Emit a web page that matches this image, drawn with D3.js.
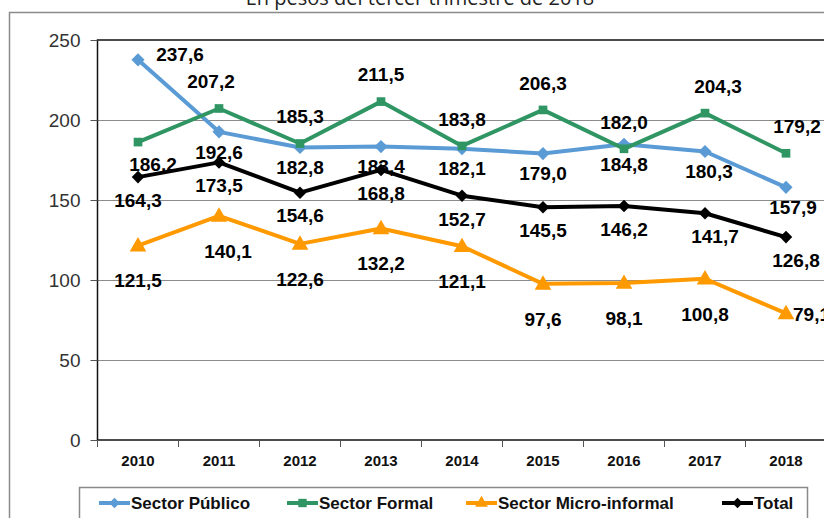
<!DOCTYPE html>
<html>
<head>
<meta charset="utf-8">
<script src="https://cdn.jsdelivr.net/npm/d3@7"></script>
<style>
  body { margin: 0; background: #fff; }
  svg { display: block; font-family: "Liberation Sans", Arial, sans-serif; }
</style>
</head>
<body>
<div class="canvas"></div>
<script>
// data
const years = ['2010', '2011', '2012', '2013', '2014', '2015', '2016', '2017', '2018']
const publico = [237.6, 192.6, 182.8, 183.4, 182.1, 179.0, 184.8, 180.3, 157.9]
const formal = [186.2, 207.2, 185.3, 211.5, 183.8, 206.3, 182.0, 204.3, 179.2]
const micro = [121.5, 140.1, 122.6, 132.2, 121.1, 97.6, 98.1, 100.8, 79.1]
const total = [164.3, 173.5, 154.6, 168.8, 152.7, 145.5, 146.2, 141.7, 126.8]
const yTicks = [0, 50, 100, 150, 200, 250]
const seriesNames = ['Sector Público', 'Sector Formal', 'Sector Micro-informal', 'Total']
const title = 'En pesos del tercer trimestre de 2018'

const width = 824, height = 518
const plot = {left: 97.5, top: 40, bottom: 440}
const band = 81

const svg = d3.select('.canvas')
    .append('svg')
    .attr('width', width)
    .attr('height', height)

const x = d3.scaleBand()
    .domain(years)
    .range([plot.left, plot.left + band * years.length])
const y = d3.scaleLinear()
    .domain([0, 250])
    .range([plot.bottom, plot.top])
const cx = d => x(d) + x.bandwidth() / 2

// outer chart border + title
svg.append('path')
    .attr('d', `M9.5,${height} V12.5 H${width}`)
    .attr('fill', 'none')
    .attr('stroke', '#8a8a8a')
    .attr('stroke-width', 1.5)

svg.append('text')
    .attr('x', 420)
    .attr('y', 5)
    .attr('text-anchor', 'middle')
    .attr('font-family', '"Open Sans", sans-serif')
    .attr('font-size', 20)
    .attr('fill', '#222')
    .text(title)

// gridlines
svg.append('g').selectAll('line')
    .data(yTicks.filter(t => t > 0 && t < 250))
    .enter().append('line')
    .attr('x1', plot.left).attr('x2', width)
    .attr('y1', d => Math.round(y(d)) + 0.5).attr('y2', d => Math.round(y(d)) + 0.5)
    .attr('stroke', '#8c8c8c')
    .attr('stroke-width', 1)

// plot area border (top + left)
svg.append('path')
    .attr('d', `M${width},${y(250)} H${plot.left} V${plot.bottom}`)
    .attr('fill', 'none')
    .attr('stroke', '#111')
    .attr('stroke-width', 1.5)

// y axis
const yAxisGroup = svg.append('g')
    .attr('transform', `translate(${plot.left}, 0)`)
    .call(d3.axisLeft(y).tickValues(yTicks).tickSize(7).tickPadding(10))
yAxisGroup.select('.domain').remove()
yAxisGroup.selectAll('line').attr('stroke', '#555')
yAxisGroup.selectAll('text')
    .attr('font-family', '"Liberation Sans", Arial, sans-serif')
    .attr('font-size', 19)
    .attr('fill', '#333')

// x axis
const xAxisGroup = svg.append('g')
    .attr('transform', `translate(0, ${plot.bottom})`)
    .call(d3.axisBottom(x).tickSize(0).tickPadding(15))
xAxisGroup.select('.domain').remove()
xAxisGroup.append('line')
    .attr('x1', plot.left).attr('x2', width)
    .attr('stroke', '#111').attr('stroke-width', 1.5)
xAxisGroup.selectAll('.boundary')
    .data(years)
    .enter().append('line')
    .attr('class', 'boundary')
    .attr('x1', d => x(d)).attr('x2', d => x(d))
    .attr('y1', 0).attr('y2', 7)
    .attr('stroke', '#555')
xAxisGroup.selectAll('text')
    .attr('font-size', 15)
    .attr('font-weight', 'bold')
    .attr('fill', '#111')

// series
const series = [
    {name: seriesNames[0], values: publico, color: '#5b9bd5', sym: d3.symbol().type(d3.symbolDiamond2).size(110), dy: 20},
    {name: seriesNames[1], values: formal, color: '#2e9563', sym: d3.symbol().type(d3.symbolSquare).size(75), dy: -27},
    {name: seriesNames[2], values: micro, color: '#ff9900', sym: d3.symbol().type(d3.symbolTriangle).size(120), dy: 35},
    {name: seriesNames[3], values: total, color: '#000000', sym: d3.symbol().type(d3.symbolDiamond2).size(100), dy: 23}
]

// label placement tweaks, key = series-index
const labelOverride = {
    '0-0': {dx: 42, dy: -6},
    '0-7': {dx: 4},
    '0-8': {dx: 7},
    '1-0': {dx: 15, dy: 22},
    '1-1': {dx: -8},
    '1-7': {dx: 13},
    '1-8': {dx: 11},
    '2-1': {dx: 9},
    '2-8': {dy: 1, anchor: 'start', x0: 7},
    '3-7': {dx: 10},
    '3-8': {dx: 10}
}
const ov = (si, i) => labelOverride[si + '-' + i] || {}

const line = d3.line()
    .x((d, i) => cx(years[i]))
    .y(d => y(d))

series.forEach((s, si) => {
    const g = svg.append('g')
    g.append('path')
        .datum(s.values)
        .attr('d', line)
        .attr('fill', 'none')
        .attr('stroke', s.color)
        .attr('stroke-width', 4)
        .attr('stroke-linejoin', 'round')
    g.selectAll('.marker')
        .data(s.values)
        .enter().append('path')
        .attr('class', 'marker')
        .attr('d', s.sym)
        .attr('fill', s.color)
        .attr('transform', (d, i) => `translate(${cx(years[i])}, ${y(d) + (si === 2 ? 1 : 0)})`)
})

// data labels on top
series.forEach((s, si) => {
    svg.append('g').selectAll('text')
        .data(s.values)
        .enter().append('text')
        .attr('x', (d, i) => {
            const o = ov(si, i)
            if (o.anchor === 'start') return cx(years[i]) + o.x0
            return cx(years[i]) + (o.dx || 0)
        })
        .attr('y', (d, i) => y(d) + (ov(si, i).dy !== undefined ? ov(si, i).dy : s.dy))
        .attr('dy', '0.36em')
        .attr('text-anchor', (d, i) => ov(si, i).anchor || 'middle')
        .attr('font-size', 19)
        .attr('font-weight', 'bold')
        .attr('fill', '#000')
        .text(d => d.toFixed(1).replace('.', ','))
})

// legend
const legend = svg.append('g')
legend.append('rect')
    .attr('x', 79.5).attr('y', 487.5)
    .attr('width', 728).attr('height', 50)
    .attr('fill', '#fff')
    .attr('stroke', '#8a8a8a')
    .attr('stroke-width', 1.5)
const legendX = [99, 287, 466, 722]
series.forEach((s, i) => {
    const lg = legend.append('g').attr('transform', `translate(${legendX[i]}, 503)`)
    lg.append('line')
        .attr('x1', 0).attr('x2', 31)
        .attr('stroke', s.color).attr('stroke-width', 4)
    lg.append('path')
        .attr('d', s.sym.size(70))
        .attr('fill', s.color)
        .attr('transform', 'translate(15.5, 0)')
    lg.append('text')
        .attr('x', 32)
        .attr('dy', '0.36em')
        .attr('font-size', 17)
        .attr('font-weight', 'bold')
        .attr('fill', '#111')
        .text(s.name)
})
</script>
</body>
</html>
